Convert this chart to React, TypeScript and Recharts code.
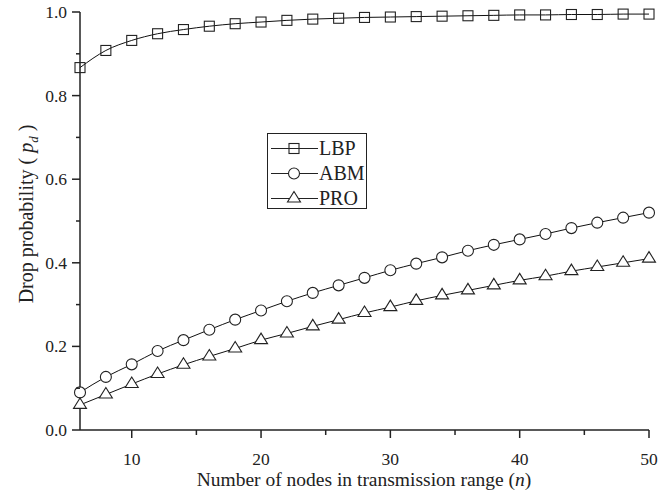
import React from "react";
import { LineChart, Line, XAxis, YAxis, Legend, Label } from "recharts";

const nValues = [6, 8, 10, 12, 14, 16, 18, 20, 22, 24, 26, 28, 30, 32, 34, 36, 38, 40, 42, 44, 46, 48, 50];
const lbpValues = [0.867, 0.908, 0.932, 0.948, 0.958, 0.966, 0.972, 0.976, 0.980, 0.983, 0.985, 0.987, 0.988, 0.989, 0.990, 0.991, 0.992, 0.993, 0.993, 0.994, 0.994, 0.995, 0.995];
const abmValues = [0.090, 0.127, 0.157, 0.189, 0.215, 0.240, 0.264, 0.286, 0.308, 0.328, 0.346, 0.364, 0.382, 0.398, 0.413, 0.429, 0.443, 0.456, 0.469, 0.483, 0.496, 0.508, 0.520];
const proValues = [0.060, 0.085, 0.110, 0.134, 0.156, 0.176, 0.195, 0.215, 0.231, 0.248, 0.264, 0.280, 0.294, 0.309, 0.322, 0.334, 0.346, 0.358, 0.368, 0.380, 0.390, 0.400, 0.410];

const seriesNames = ["LBP", "ABM", "PRO"];
const xTicks = [10, 15, 20, 25, 30, 35, 40, 45, 50];
const yTicks = [0, 0.1, 0.2, 0.3, 0.4, 0.5, 0.6, 0.7, 0.8, 0.9, 1.0];

const data = nValues.map((n, i) => ({
  n,
  LBP: lbpValues[i],
  ABM: abmValues[i],
  PRO: proValues[i],
}));

const FONT = '"Liberation Serif", "Times New Roman", serif';
const INK = "#222";

function isMajorX(v: number) {
  return v % 10 === 0;
}
function isMajorY(v: number) {
  return Math.abs(Math.round(v * 10) % 2) === 0;
}

function Marker({ kind, cx, cy }: { kind: string; cx: number; cy: number }) {
  if (kind === "LBP") {
    return <rect x={cx - 5} y={cy - 5} width={10} height={10} fill="none" stroke={INK} strokeWidth={1.1} />;
  }
  if (kind === "ABM") {
    return <circle cx={cx} cy={cy} r={5.5} fill="#fff" stroke={INK} strokeWidth={1.1} />;
  }
  return (
    <polygon
      points={`${cx},${cy - 7} ${cx - 6.5},${cy + 3.5} ${cx + 6.5},${cy + 3.5}`}
      fill="#fff"
      stroke={INK}
      strokeWidth={1.1}
    />
  );
}

const makeDot = (kind: string) => (props: any) => {
  const { cx, cy, index } = props;
  if (cx == null || cy == null) return <g key={`d-${kind}-${index}`} />;
  return (
    <g key={`d-${kind}-${index}`}>
      <Marker kind={kind} cx={cx} cy={cy} />
    </g>
  );
};

const BottomTick = (props: any) => {
  const { x, y, payload } = props;
  const major = isMajorX(payload.value);
  return (
    <g>
      <line x1={x} x2={x} y1={y} y2={y + (major ? 8 : 5)} stroke={INK} strokeWidth={1.5} />
      {major && (
        <text x={x} y={y + 35} textAnchor="middle" fontFamily={FONT} fontSize={17.5} fill={INK}>
          {payload.value}
        </text>
      )}
    </g>
  );
};

const TopTick = (props: any) => {
  const { x, y, payload } = props;
  const major = isMajorX(payload.value);
  return <line x1={x} x2={x} y1={y} y2={y - (major ? 4 : 3)} stroke={INK} strokeWidth={1.2} />;
};

const LeftTick = (props: any) => {
  const { x, y, payload } = props;
  const major = isMajorY(payload.value);
  return (
    <g>
      <line x1={x} x2={x - (major ? 8 : 4)} y1={y} y2={y} stroke={INK} strokeWidth={1.5} />
      {major && (
        <text x={x - 13} y={y + 6} textAnchor="end" fontFamily={FONT} fontSize={17.5} fill={INK}>
          {Number(payload.value).toFixed(1)}
        </text>
      )}
    </g>
  );
};

const RightTick = (props: any) => {
  const { x, y, payload } = props;
  const major = isMajorY(payload.value);
  return <line x1={x} x2={x + (major ? 4 : 3)} y1={y} y2={y} stroke={INK} strokeWidth={1.2} />;
};

const LegendBox = () => (
  <div
    style={{
      width: 100,
      height: 76,
      boxSizing: "border-box",
      border: `1px solid ${INK}`,
      paddingTop: 2,
      background: "#fff",
      fontFamily: FONT,
      fontSize: 20,
      color: INK,
    }}
  >
    {seriesNames.map((name) => (
      <div key={name} style={{ display: "flex", alignItems: "center", height: 25 }}>
        <svg width={50} height={25} style={{ display: "block" }}>
          <line x1={3} x2={50} y1={12.5} y2={12.5} stroke={INK} strokeWidth={1} />
          <Marker kind={name} cx={26} cy={12.5} />
        </svg>
        <span style={{ marginLeft: 1, lineHeight: "25px" }}>{name}</span>
      </div>
    ))}
  </div>
);

export default function App() {
  return (
    <div style={{ position: "absolute", left: 0, top: 0, background: "#fff" }}>
      <LineChart width={670} height={495} data={data} margin={{ top: 12, right: 21, left: 0, bottom: 0 }}>
        <XAxis
          dataKey="n"
          type="number"
          domain={[6, 50]}
          ticks={xTicks}
          interval={0}
          height={65}
          tickSize={0}
          tickMargin={0}
          tickLine={false}
          axisLine={{ stroke: INK, strokeWidth: 1.5 }}
          tick={<BottomTick />}
        >
          <Label
            content={() => (
              <text x={364} y={486} textAnchor="middle" fontFamily={FONT} fontSize={19.5} fill={INK}>
                Number of nodes in transmission range (<tspan fontStyle="italic">n</tspan>)
              </text>
            )}
          />
        </XAxis>
        <XAxis
          xAxisId="top"
          dataKey="n"
          orientation="top"
          type="number"
          domain={[6, 50]}
          ticks={xTicks}
          interval={0}
          height={0}
          tickSize={0}
          tickMargin={0}
          tickLine={false}
          axisLine={{ stroke: INK, strokeWidth: 1.5 }}
          tick={<TopTick />}
        />
        <YAxis
          type="number"
          domain={[0, 1]}
          ticks={yTicks}
          interval={0}
          width={80}
          tickSize={0}
          tickMargin={0}
          tickLine={false}
          axisLine={{ stroke: INK, strokeWidth: 1.5 }}
          tick={<LeftTick />}
        >
          <Label
            content={() => (
              <text
                x={33}
                y={214}
                textAnchor="middle"
                fontFamily={FONT}
                fontSize={20}
                fill={INK}
                transform="rotate(-90, 33, 214)"
              >
                Drop probability (
                <tspan fontStyle="italic" dx={5}>p</tspan>
                <tspan fontStyle="italic" fontSize={13} dy={5}>d</tspan>
                <tspan dy={-5} dx={5}>)</tspan>
              </text>
            )}
          />
        </YAxis>
        <YAxis
          yAxisId="right"
          orientation="right"
          type="number"
          domain={[0, 1]}
          ticks={yTicks}
          interval={0}
          width={0}
          tickSize={0}
          tickMargin={0}
          tickLine={false}
          axisLine={{ stroke: INK, strokeWidth: 1.5 }}
          tick={<RightTick />}
        />
        {seriesNames.map((name) => (
          <Line
            key={name}
            dataKey={name}
            type="monotone"
            stroke="#111"
            strokeWidth={1}
            dot={makeDot(name)}
            activeDot={false}
            isAnimationActive={false}
            legendType="none"
          />
        ))}
        <Legend
          layout="horizontal"
          verticalAlign="middle"
          align="center"
          content={() => <LegendBox />}
          wrapperStyle={{ position: "absolute", left: 267, top: 133, width: 100, height: 76 }}
        />
      </LineChart>
    </div>
  );
}
